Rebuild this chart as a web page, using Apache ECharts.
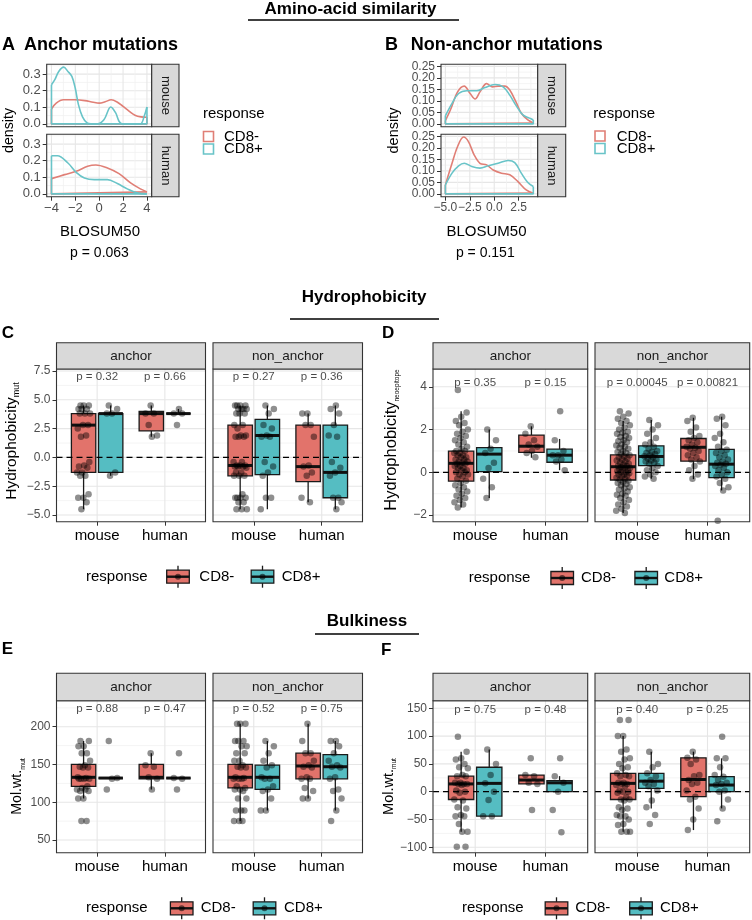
<!DOCTYPE html>
<html><head><meta charset="utf-8">
<script src="https://cdn.jsdelivr.net/npm/echarts@6/dist/echarts.min.js"></script>
<style>html,body{margin:0;padding:0;background:#fff}#c{width:752px;height:920px}</style>
</head><body><div id="c"></div>
<script>
// ================= DATA =================
const responses = ['CD8-', 'CD8+'];
const speciesCats = ['mouse', 'human'];
const facetNames = ['anchor', 'non_anchor'];

// ---- A: BLOSUM50 densities, anchor mutations ([x, density]) ----
const densAMouseNeg = [[-4,0.09],[-3.6,0.125],[-3,0.145],[-2,0.145],[-1.2,0.14],[-0.5,0.13],[0,0.125],[0.5,0.133],[1,0.145],[1.5,0.132],[2,0.105],[2.5,0.077],[3,0.052],[3.5,0.042],[4,0.04]];
const densAMousePos = [[-4,0.236],[-3.72,0.266],[-3.39,0.316],[-2.98,0.342],[-2.62,0.316],[-2.29,0.286],[-2.01,0.216],[-1.74,0.116],[-1.4,0.042],[-1.02,0.006],[-0.69,0],[-0.14,0],[0.41,0.026],[0.97,0.102],[1.38,0.066],[1.66,0.016],[1.93,0],[3.44,0],[3.77,0.046],[4,0.102]];
const densAHumanNeg = [[-4,0.092],[-2.9,0.116],[-1.93,0.136],[-0.97,0.166],[-0.28,0.174],[0.69,0.156],[1.66,0.122],[2.63,0.066],[3.45,0.03],[4,0.012]];
const densAHumanPos = [[-4,0.23],[-3.5,0.23],[-2.62,0.186],[-1.93,0.13],[-1.24,0.096],[-0.41,0.086],[0.69,0.086],[1.52,0.062],[2.35,0.03],[3.17,0.006],[4,0]];
// ---- B: BLOSUM50 densities, non-anchor mutations ----
const densBMouseNeg = [[-5,0.014],[-4.49,0.06],[-3.75,0.139],[-3.07,0.164],[-2.47,0.132],[-1.96,0.108],[-1.46,0.139],[-0.78,0.175],[-0.17,0.161],[0.4,0.164],[1.08,0.164],[1.59,0.147],[2.26,0.092],[2.77,0.046],[3.44,0.017],[4,0.004]];
const densBMousePos = [[-5,0.035],[-4.32,0.089],[-3.65,0.132],[-2.8,0.144],[-1.79,0.144],[-0.95,0.158],[0.07,0.171],[0.91,0.161],[1.59,0.125],[2.26,0.078],[2.93,0.039],[3.61,0.025],[4,0.017]];
const densBHumanNeg = [[-5,0.039],[-4.32,0.133],[-3.75,0.206],[-3.14,0.247],[-2.64,0.227],[-2.06,0.17],[-1.46,0.133],[-0.78,0.126],[-0.11,0.104],[0.74,0.09],[1.59,0.083],[2.43,0.053],[3.27,0.017],[4,0.003]];
const densBHumanPos = [[-5,0.039],[-4.32,0.09],[-3.65,0.122],[-3.07,0.133],[-2.3,0.119],[-1.46,0.112],[-0.61,0.122],[0.4,0.133],[1.42,0.145],[2.1,0.136],[2.77,0.09],[3.44,0.049],[4,0.032]];

// ---- box stats [min, q1, median, q3, max]; rows: mouse CD8-, mouse CD8+, human CD8-, human CD8+ ----
const statsCAnchor = [[-4.5,-1.3,2.8,3.8,4.5],[-1.6,-1.3,3.8,3.8,4.5],[1.8,2.3,3.8,4.0,4.5],[3.8,3.8,3.8,3.8,4.2]];
const statsCNon    = [[-4.5,-1.6,-0.7,2.8,4.5],[-4.5,-1.5,1.9,3.3,4.5],[-3.9,-2.1,-0.8,2.8,3.8],[-4.5,-3.5,-1.3,2.8,4.5]];
const statsDAnchor = [[-1.65,-0.41,0.42,0.99,2.85],[-1.2,0.03,0.85,1.15,2.0],[0.68,0.93,1.22,1.74,2.15],[0.1,0.47,0.8,1.08,1.56]];
const statsDNon    = [[-1.9,-0.36,0.26,0.81,2.4],[-0.3,0.31,0.74,1.24,2.45],[-0.32,0.52,1.17,1.58,2.55],[-0.85,-0.25,0.38,1.07,2.6]];
const statsEAnchor = [[105,121,133,150,181],[132,132,132,132,132],[117,131,133,150,165],[132,132,132,132,132]];
const statsENon    = [[75,119,133,150,204],[89,117,133,149,181],[105,131,148,165,204],[89,131,147,163,181]];
const statsFAnchor = [[-72,-14,14,28,72],[-44,-44,15,44,76],[14,14,21,30,30],[0,0,16,20,28]];
const statsFNon    = [[-72,-14,15,33,100],[-30,6,19,33,72],[-69,-9,22,61,72],[-30,0,12,27,60]];

// ---- individual points (same group order) ----
const ptsCAnchor = [
 [4.5,4.5,4.5,4.2,4.2,4.2,3.8,3.8,3.8,2.8,2.8,2.5,1.9,1.8,-0.4,-0.7,-0.8,-0.9,-1.3,-1.3,-1.6,-1.6,-3.2,-3.5,-3.5,-3.9,-4.5],
 [4.5,4.2,3.8,3.8,-1.3,-1.6],
 [4.5,3.8,3.8,2.8,1.9,1.8],
 [4.2,3.8,3.8,2.8]];
const ptsCNon = [
 [4.5,4.5,4.5,4.5,4.2,4.2,4.2,4.2,3.8,3.8,3.8,2.8,2.8,2.5,1.9,1.9,1.8,1.8,1.8,-0.4,-0.4,-0.7,-0.7,-0.7,-0.8,-0.8,-0.8,-0.9,-1.3,-1.3,-1.6,-1.6,-1.6,-3.2,-3.5,-3.5,-3.5,-3.5,-3.9,-3.9,-4.5,-4.5,-4.5],
 [4.5,4.2,3.8,2.8,2.5,1.9,1.8,1.8,-0.4,-0.8,-1.3,-1.6,-3.5,-3.5,-4.5],
 [3.8,3.8,2.8,2.8,1.8,-0.7,-0.8,-1.3,-1.6,-3.5,-3.9],
 [4.5,4.2,3.8,2.8,1.9,1.8,-0.4,-0.9,-1.3,-1.6,-3.5,-3.5,-3.9,-4.5]];
const ptsDAnchor = [
 [3.85,2.8,2.6,2.4,2.3,2.2,2.0,1.9,1.8,1.7,1.6,1.5,1.4,1.3,1.2,1.1,1.0,1.0,0.9,0.9,0.8,0.8,0.7,0.7,0.6,0.6,0.5,0.5,0.45,0.4,0.4,0.3,0.3,0.2,0.2,0.1,0.1,0.0,0.0,-0.1,-0.1,-0.2,-0.3,-0.4,-0.5,-0.6,-0.7,-0.8,-0.9,-1.0,-1.1,-1.2,-1.3,-1.4,-1.5,-1.65],
 [2.0,1.5,1.1,0.9,0.45,0.2,-0.3,-0.7,-1.2],
 [2.15,1.8,1.5,1.3,1.2,1.0,0.9,0.7],
 [2.85,1.5,1.0,0.8,0.8,0.6,0.5,0.1]];
const ptsDNon = [
 [2.85,2.75,2.6,2.5,2.4,2.3,2.2,2.1,2.0,1.9,1.85,1.8,1.7,1.65,1.6,1.5,1.45,1.4,1.3,1.25,1.2,1.15,1.1,1.0,0.95,0.9,0.85,0.8,0.75,0.7,0.65,0.6,0.55,0.5,0.45,0.4,0.35,0.3,0.3,0.25,0.2,0.2,0.15,0.1,0.1,0.05,0.0,0.0,-0.05,-0.1,-0.1,-0.15,-0.2,-0.25,-0.3,-0.35,-0.4,-0.45,-0.5,-0.55,-0.6,-0.7,-0.75,-0.8,-0.9,-1.0,-1.05,-1.1,-1.2,-1.3,-1.4,-1.5,-1.6,-1.7,-1.8,-1.9],
 [2.45,2.2,2.0,1.8,1.6,1.4,1.3,1.2,1.1,1.0,0.95,0.9,0.85,0.8,0.75,0.7,0.65,0.6,0.55,0.5,0.45,0.4,0.3,0.2,0.1,0.0,-0.1,-0.2,-0.3],
 [2.55,2.4,2.1,1.9,1.7,1.6,1.5,1.4,1.3,1.2,1.15,1.1,1.0,0.9,0.8,0.7,0.6,0.5,0.3,0.1,-0.1,-0.3],
 [2.6,2.5,2.2,1.8,1.6,1.4,1.2,1.05,1.0,0.9,0.8,0.7,0.6,0.5,0.45,0.4,0.35,0.3,0.2,0.1,0.0,-0.1,-0.2,-0.3,-0.5,-0.7,-0.85,-2.27]];
const ptsEAnchor = [
 [181,181,174,174,165,165,155,149,147,146,146,133,132,131,131,131,131,121,119,117,117,115,115,105,105,75,75],
 [181,132,131,117],
 [165,149,147,133,131,117],
 [165,132,131,117]];
const ptsENon = [
 [204,204,204,181,181,181,174,174,165,165,155,155,149,147,146,146,133,132,131,131,131,121,119,117,117,115,105,105,89,89,89,75,75,75],
 [181,174,165,155,149,146,133,131,131,121,117,115,105,89,89],
 [204,181,165,165,155,149,147,146,133,131,131,119,115,105,105],
 [181,181,174,165,155,149,147,146,133,131,117,115,105,89,75]];
const ptsFAnchor = [
 [99,72,60,58,50,44,42,30,28,28,16,16,14,14,14,12,2,0,-2,-14,-16,-28,-30,-42,-44,-44,-58,-72,-72,-99,-99],
 [76,50,30,15,0,-15,-44,-44],
 [60,30,28,16,14,-33],
 [60,28,16,0,-33,-73]];
const ptsFNon = [
 [129,129,100,100,76,72,60,58,50,44,42,33,30,28,28,16,16,14,14,12,10,2,0,0,-2,-10,-14,-14,-16,-28,-30,-33,-42,-44,-44,-50,-58,-60,-72,-72,-72],
 [72,50,44,33,28,21,16,14,10,2,-16,-28,-42,-58],
 [72,61,58,50,30,28,21,16,14,2,-9,-14,-30,-50,-69],
 [99,60,60,44,30,27,21,16,14,12,2,0,-14,-30,-53]];

// ---- p-value labels ----
const pC = ['p = 0.32','p = 0.66','p = 0.27','p = 0.36'];
const pD = ['p = 0.35','p = 0.15','p = 0.00045','p = 0.00821'];
const pE = ['p = 0.88','p = 0.47','p = 0.52','p = 0.75'];
const pF = ['p = 0.75','p = 0.48','p = 0.40','p = 0.25'];
const pA = 'p = 0.063', pB = 'p = 0.151';

// ---- tick labels ----
const ticksAx = [-4,-2,0,2,4], labAx = ['\u22124','\u22122','0','2','4'];
const ticksAy = [0,0.1,0.2,0.3], labAy = ['0.0','0.1','0.2','0.3'];
const ticksBx = [-5,-2.5,0,2.5], labBx = ['\u22125.0','\u22122.5','0.0','2.5'];
const ticksBy = [0,0.05,0.1,0.15,0.2,0.25], labBy = ['0.00','0.05','0.10','0.15','0.20','0.25'];
const ticksC = [-5,-2.5,0,2.5,5,7.5], labC = ['\u22125.0','\u22122.5','0.0','2.5','5.0','7.5'];
const ticksD = [-2,0,2,4], labD = ['\u22122','0','2','4'];
const ticksE = [50,100,150,200], labE = ['50','100','150','200'];
const ticksF = [-100,-50,0,50,100,150], labF = ['\u2212100','\u221250','0','50','100','150'];

// ================= STYLE / LAYOUT =================
const FONT = '"Liberation Sans", Arial, Helvetica, sans-serif';
const RED = '#E2736B', TEAL = '#55BDC2';
const LRED = '#E07F76', LTEAL = '#69C4C8';
const DODGE = 0.2, BOXW = 0.36, JW = 0.1;

const grids = [], xAxes = [], yAxes = [], extraY = [], series = [], gfx = [];

function jit(k) { const f = (k * 0.6180339887 + 0.27) % 1; return (f - 0.5) * 2; }
function minors(ticks) { const m = []; const d = ticks[1] - ticks[0]; for (let i = 0; i < ticks.length; i++) { m.push(ticks[i] + d / 2); } m.unshift(ticks[0] - d / 2); return m; }
function fmtFrom(ticks, labels) { return v => { const k = ticks.findIndex(t => Math.abs(t - v) < 1e-9); return k >= 0 ? labels[k] : ''; }; }
function yAxisCfg(i, yr, ticks, labels, show, fs) {
  return { gridIndex: i, type: 'value', min: yr[0], max: yr[1], position: 'left',
    axisLine: { show: false, onZero: false }, splitLine: { show: false },
    axisTick: { show: show, customValues: ticks, length: 4, lineStyle: { color: '#333', width: 1 } },
    axisLabel: { show: show, customValues: ticks, margin: 6, fontSize: fs || 12, color: '#4D4D4D', fontFamily: FONT,
      showMinLabel: true, showMaxLabel: true, hideOverlap: false, formatter: fmtFrom(ticks, labels) } };
}

function addPanel(rect, xr, yr, o) {
  const i = grids.length;
  grids.push({ left: rect[0], top: rect[1], width: rect[2], height: rect[3], show: false, containLabel: false });
  const fx = o.xTicks, fy = o.yTicks;
  const showY = o.showY !== false;
  xAxes.push({ gridIndex: i, type: 'value', min: xr[0], max: xr[1], position: 'bottom',
    axisLine: { show: false, onZero: false }, splitLine: { show: false },
    axisTick: { show: !!o.showX, customValues: fx, length: 4, lineStyle: { color: '#333', width: 1 } },
    axisLabel: { show: !!o.showX, customValues: fx, margin: o.xMargin || 6, fontSize: o.xFont || 12, color: o.xColor || '#4D4D4D', fontFamily: FONT,
      showMinLabel: true, showMaxLabel: true, hideOverlap: false, formatter: fmtFrom(fx, o.xLabels) } });
  if (o.splitY) {
    // labels are tightly packed: alternate them across two co-located axes so none is dropped
    const t1 = fy.filter((t, k) => k % 2 === 0), l1 = o.yLabels.filter((t, k) => k % 2 === 0);
    const t2 = fy.filter((t, k) => k % 2 === 1), l2 = o.yLabels.filter((t, k) => k % 2 === 1);
    yAxes.push(yAxisCfg(i, yr, t1, l1, showY, o.yFont));
    extraY.push(yAxisCfg(i, yr, t2, l2, showY, o.yFont));
  } else {
    yAxes.push(yAxisCfg(i, yr, fy, o.yLabels, showY, o.yFont));
  }
  // gridlines: kind 0 = h major, 1 = h minor, 2 = v major, 3 = v minor
  const gl = [];
  minors(fy).forEach(v => { if (v > yr[0] && v < yr[1]) gl.push([v, 1]); });
  fy.forEach(v => gl.push([v, 0]));
  if (o.xMinor) o.xMinor.forEach(v => { if (v > xr[0] && v < xr[1]) gl.push([v, 3]); });
  (o.xGrid || fx).forEach(v => gl.push([v, 2]));
  series.push({ type: 'custom', xAxisIndex: i, yAxisIndex: i, z: 1, silent: true, animation: false, data: gl,
    renderItem: (params, api) => {
      const v = api.value(0), k = api.value(1);
      let p1, p2;
      if (k < 2) { p1 = api.coord([xr[0], v]); p2 = api.coord([xr[1], v]); }
      else { p1 = api.coord([v, yr[0]]); p2 = api.coord([v, yr[1]]); }
      const major = (k % 2 === 0);
      return { type: 'line', shape: { x1: p1[0], y1: p1[1], x2: p2[0], y2: p2[1] },
        style: { stroke: major ? '#E6E6E6' : '#F1F1F1', lineWidth: major ? 1.1 : 0.8 } };
    } });
  gfx.push({ type: 'rect', z: 100, shape: { x: rect[0], y: rect[1], width: rect[2], height: rect[3] }, style: { fill: 'none', stroke: '#333', lineWidth: 1.1 } });
  return i;
}

function addDensity(i, pts, color) {
  series.push({ type: 'line', xAxisIndex: i, yAxisIndex: i, data: pts, smooth: 0.35, symbol: 'none', z: 3, silent: true, animation: false,
    lineStyle: { color, width: 1.6 } });
  const f = pts[0], l = pts[pts.length - 1];
  series.push({ type: 'line', xAxisIndex: i, yAxisIndex: i, data: [[l[0], l[1]], [l[0], 0], [f[0], 0], [f[0], f[1]]], symbol: 'none', z: 3, silent: true, animation: false,
    lineStyle: { color, width: 1.6 } });
}

function boxRender(params, api) {
  const x = api.value(0), ci = api.value(6);
  const pMn = api.coord([x, api.value(1)]), pQ1 = api.coord([x, api.value(2)]), pMd = api.coord([x, api.value(3)]),
        pQ3 = api.coord([x, api.value(4)]), pMx = api.coord([x, api.value(5)]);
  const w = api.size([BOXW, 0])[0], cx = pMd[0];
  const st = { stroke: '#1A1A1A', lineWidth: 1.3 };
  return { type: 'group', children: [
    { type: 'line', shape: { x1: cx, y1: pMx[1], x2: cx, y2: pQ3[1] }, style: st },
    { type: 'line', shape: { x1: cx, y1: pQ1[1], x2: cx, y2: pMn[1] }, style: st },
    { type: 'rect', shape: { x: cx - w / 2, y: pQ3[1], width: w, height: pQ1[1] - pQ3[1] }, style: { fill: ci ? TEAL : RED, stroke: '#1A1A1A', lineWidth: 1.3 } },
    { type: 'line', shape: { x1: cx - w / 2, y1: pMd[1], x2: cx + w / 2, y2: pMd[1] }, style: { stroke: '#111', lineWidth: 3 } }
  ] };
}

function addBoxFacet(i, xr, stats, pts, pLabels, pY) {
  const centers = [1 - DODGE, 1 + DODGE, 2 - DODGE, 2 + DODGE];
  series.push({ type: 'custom', xAxisIndex: i, yAxisIndex: i, z: 3, silent: true, animation: false,
    data: stats.map((s, j) => [centers[j], s[0], s[1], s[2], s[3], s[4], j % 2]),
    encode: { x: 0, y: [1, 2, 3, 4, 5] }, renderItem: boxRender });
  const d = [];
  pts.forEach((arr, j) => arr.forEach((v, k) => d.push([centers[j] + jit(k + j * 5) * JW, v])));
  series.push({ type: 'scatter', xAxisIndex: i, yAxisIndex: i, z: 4, silent: true, animation: false, symbolSize: 6.5,
    itemStyle: { color: 'rgba(0,0,0,0.55)' }, data: d });
  series.push({ type: 'line', xAxisIndex: i, yAxisIndex: i, z: 5, silent: true, animation: false, symbol: 'none',
    data: [[xr[0], 0], [xr[1], 0]], lineStyle: { color: '#000', width: 1.3, type: [6, 4] } });
  series.push({ type: 'scatter', xAxisIndex: i, yAxisIndex: i, z: 6, silent: true, animation: false, symbolSize: 1,
    itemStyle: { color: 'rgba(0,0,0,0)' },
    data: [{ name: pLabels[0], value: [1, pY] }, { name: pLabels[1], value: [2, pY] }],
    label: { show: true, position: 'inside', formatter: '{b}', color: '#1A1A1A', fontSize: 11.5, fontFamily: FONT } });
}

// ---- graphic helpers ----
function txt(x, y, s, size, opt) {
  opt = opt || {};
  const el = { type: 'text', x, y, z: 110, rotation: opt.rot || 0,
    style: { text: s, x: 0, y: 0, fill: opt.color || '#000', fontSize: size, fontFamily: FONT, fontWeight: opt.bold ? 'bold' : 'normal',
      align: opt.align || 'left', textAlign: opt.align || 'left', verticalAlign: 'middle', textVerticalAlign: 'middle' } };
  if (opt.rich) el.style.rich = opt.rich;
  gfx.push(el);
}
function hline(x1, x2, y, w) { gfx.push({ type: 'line', z: 110, shape: { x1, y1: y, x2, y2: y }, style: { stroke: '#000', lineWidth: w || 1.3 } }); }
function strip(x, y, w, h, s, vertical, fs) {
  gfx.push({ type: 'rect', z: 101, shape: { x, y, width: w, height: h }, style: { fill: '#D9D9D9', stroke: '#333', lineWidth: 1.1 } });
  txt(x + w / 2, y + h / 2, s, fs || 13.5, { align: 'center', color: '#1A1A1A', rot: vertical ? -Math.PI / 2 : 0 });
}
function densKey(x, y, color) { gfx.push({ type: 'rect', z: 110, shape: { x, y, width: 10, height: 10 }, style: { fill: '#fff', stroke: color, lineWidth: 1.6 } }); }
function boxKey(cx, cy, color) {
  gfx.push({ type: 'line', z: 110, shape: { x1: cx, y1: cy - 11, x2: cx, y2: cy + 11 }, style: { stroke: '#1A1A1A', lineWidth: 1.3 } });
  gfx.push({ type: 'rect', z: 111, shape: { x: cx - 11.3, y: cy - 6.5, width: 22.6, height: 13 }, style: { fill: color, stroke: '#1A1A1A', lineWidth: 1.3 } });
  gfx.push({ type: 'line', z: 112, shape: { x1: cx - 11.3, y1: cy, x2: cx + 11.3, y2: cy }, style: { stroke: '#111', lineWidth: 2.4 } });
  gfx.push({ type: 'circle', z: 113, shape: { cx, cy, r: 3 }, style: { fill: 'rgba(0,0,0,0.55)' } });
}
function boxLegend(cy, xResp, k1, t1, k2, t2) {
  txt(xResp, cy, 'response', 15, { color: '#000' });
  boxKey(k1, cy, RED); txt(t1, cy, responses[0], 15);
  boxKey(k2, cy, TEAL); txt(t2, cy, responses[1], 15);
}
function yTitle(x, y, main, sub, fMain, fSub) {
  txt(x, y, '{a|' + main + '}{b|' + sub + '}', fMain, { align: 'center', rot: Math.PI / 2,
    rich: { a: { fontSize: fMain, fontFamily: FONT, fill: '#000', color: '#000', lineHeight: fMain + 3 },
            b: { fontSize: fSub, fontFamily: FONT, fill: '#000', color: '#000', lineHeight: fSub + 1, verticalAlign: 'bottom' } } });
}

// ================= PANELS =================
const axr = [-4.4, 4.4], ayr = [-0.017, 0.359];
const aOpt = { xTicks: ticksAx, xLabels: labAx, xMinor: [-3, -1, 1, 3], yTicks: ticksAy, yLabels: labAy, yFont: 13, xFont: 13, xMargin: 5 };
const gA1 = addPanel([46.7, 64.3, 105, 62.4], axr, ayr, Object.assign({}, aOpt, { showX: false }));
const gA2 = addPanel([46.7, 134.3, 105, 62.4], axr, ayr, Object.assign({}, aOpt, { showX: true }));
addDensity(gA1, densAMouseNeg, LRED); addDensity(gA1, densAMousePos, LTEAL);
addDensity(gA2, densAHumanNeg, LRED); addDensity(gA2, densAHumanPos, LTEAL);
const bxr = [-5.45, 4.45], byr = [-0.0124, 0.259];
const bOpt = { xTicks: ticksBx, xLabels: labBx, xMinor: [-3.75, -1.25, 1.25, 3.75], yTicks: ticksBy, yLabels: labBy, yFont: 12, xFont: 12, xMargin: 5, splitY: true };
const gB1 = addPanel([441, 64.3, 96.7, 62.4], bxr, byr, Object.assign({}, bOpt, { showX: false }));
const gB2 = addPanel([441, 134.3, 96.7, 62.4], bxr, byr, Object.assign({}, bOpt, { showX: true }));
addDensity(gB1, densBMouseNeg, LRED); addDensity(gB1, densBMousePos, LTEAL);
addDensity(gB2, densBHumanNeg, LRED); addDensity(gB2, densBHumanPos, LTEAL);

const catX = [0.4, 2.6];
function catOpt(yt, yl, showY) { return { showX: true, showY, xTicks: [1, 2], xLabels: speciesCats, xGrid: [1, 2], xFont: 15, xColor: '#000', xMargin: 7, yTicks: yt, yLabels: yl, yFont: 12 }; }
const cyr = [-5.58, 7.67], dyr = [-2.31, 4.83], eyr = [33.2, 234.4], fyr = [-109.7, 163.7];
const gC1 = addPanel([56.5, 369, 149, 152.7], catX, cyr, catOpt(ticksC, labC, true));
const gC2 = addPanel([213, 369, 149.5, 152.7], catX, cyr, catOpt(ticksC, labC, false));
const gD1 = addPanel([433, 369, 154.7, 152.7], catX, dyr, catOpt(ticksD, labD, true));
const gD2 = addPanel([595, 369, 154.7, 152.7], catX, dyr, catOpt(ticksD, labD, false));
const gE1 = addPanel([56.5, 700.7, 149, 152], catX, eyr, catOpt(ticksE, labE, true));
const gE2 = addPanel([213, 700.7, 149.5, 152], catX, eyr, catOpt(ticksE, labE, false));
const gF1 = addPanel([433, 700.7, 154.7, 152], catX, fyr, catOpt(ticksF, labF, true));
const gF2 = addPanel([595, 700.7, 154.7, 152], catX, fyr, catOpt(ticksF, labF, false));
addBoxFacet(gC1, catX, statsCAnchor, ptsCAnchor, pC.slice(0, 2), 7.0);
addBoxFacet(gC2, catX, statsCNon, ptsCNon, pC.slice(2, 4), 7.0);
addBoxFacet(gD1, catX, statsDAnchor, ptsDAnchor, pD.slice(0, 2), 4.2);
addBoxFacet(gD2, catX, statsDNon, ptsDNon, pD.slice(2, 4), 4.2);
addBoxFacet(gE1, catX, statsEAnchor, ptsEAnchor, pE.slice(0, 2), 223.4);
addBoxFacet(gE2, catX, statsENon, ptsENon, pE.slice(2, 4), 223.4);
addBoxFacet(gF1, catX, statsFAnchor, ptsFAnchor, pF.slice(0, 2), 148);
addBoxFacet(gF2, catX, statsFNon, ptsFNon, pF.slice(2, 4), 148);

// ================= ANNOTATIONS =================
txt(350.5, 9.5, 'Amino-acid similarity', 17, { bold: true, align: 'center' }); hline(248, 459, 20);
txt(364, 297, 'Hydrophobicity', 17, { bold: true, align: 'center' }); hline(290, 439, 319);
txt(367, 621, 'Bulkiness', 17, { bold: true, align: 'center' }); hline(315, 419, 634);
txt(2, 45, 'A', 18, { bold: true }); txt(24, 45, 'Anchor mutations', 18, { bold: true });
txt(385, 45, 'B', 18, { bold: true }); txt(410.7, 45, 'Non-anchor mutations', 18, { bold: true });
txt(1.7, 333, 'C', 17, { bold: true }); txt(382, 333, 'D', 17, { bold: true });
txt(1.7, 649, 'E', 17, { bold: true }); txt(381, 650, 'F', 17, { bold: true });
strip(151.7, 64.3, 27.3, 62.4, speciesCats[0], true, 13); strip(151.7, 134.3, 27.3, 62.4, speciesCats[1], true, 13);
strip(537.7, 64.3, 28, 62.4, speciesCats[0], true, 13); strip(537.7, 134.3, 28, 62.4, speciesCats[1], true, 13);
[[56.5, 149], [213, 149.5]].forEach((r, k) => { strip(r[0], 342.7, r[1], 26.3, facetNames[k]); strip(r[0], 673.3, r[1], 27.4, facetNames[k]); });
[[433, 154.7], [595, 154.7]].forEach((r, k) => { strip(r[0], 342.7, r[1], 26.3, facetNames[k]); strip(r[0], 673.3, r[1], 27.4, facetNames[k]); });
txt(9, 130.5, 'density', 14.2, { align: 'center', rot: Math.PI / 2 });
txt(394, 130.5, 'density', 14.5, { align: 'center', rot: Math.PI / 2 });
txt(100, 231.7, 'BLOSUM50', 15, { align: 'center' }); txt(486.5, 231.7, 'BLOSUM50', 15, { align: 'center' });
txt(99.5, 253.3, pA, 14, { align: 'center' }); txt(485.3, 253.3, pB, 14, { align: 'center' });
txt(203, 114, 'response', 15); densKey(203.5, 131.5, LRED); densKey(203.5, 144, LTEAL);
txt(224, 136.7, responses[0], 15); txt(224, 149, responses[1], 15);
txt(593.3, 114.3, 'response', 15); densKey(595, 131, LRED); densKey(595, 143.5, LTEAL);
txt(616.7, 136.5, responses[0], 15); txt(616.7, 149, responses[1], 15);
yTitle(12, 441, 'Hydrophobicity', 'mut', 15.5, 9);
yTitle(391, 440, 'Hydrophobicity', 'neoepitope', 16.5, 6.5);
yTitle(17.5, 786.5, 'Mol.wt.', 'mut', 14.2, 7);
yTitle(389, 786.5, 'Mol.wt.', 'mut', 14.5, 6.5);
boxLegend(576.7, 86, 178, 199.3, 262.5, 281.7);
boxLegend(578, 468.7, 562.2, 581, 646.2, 664.3);
boxLegend(908.3, 86, 181.7, 200.7, 264.5, 284);
boxLegend(908.3, 462, 556.5, 575.3, 641, 660);

const chart = echarts.init(document.getElementById('c'), null, { renderer: 'canvas' });
chart.setOption({
  animation: false,
  backgroundColor: '#fff',
  textStyle: { fontFamily: FONT },
  grid: grids, xAxis: xAxes, yAxis: yAxes.concat(extraY), series: series,
  graphic: { elements: gfx }
});
</script></body></html>
